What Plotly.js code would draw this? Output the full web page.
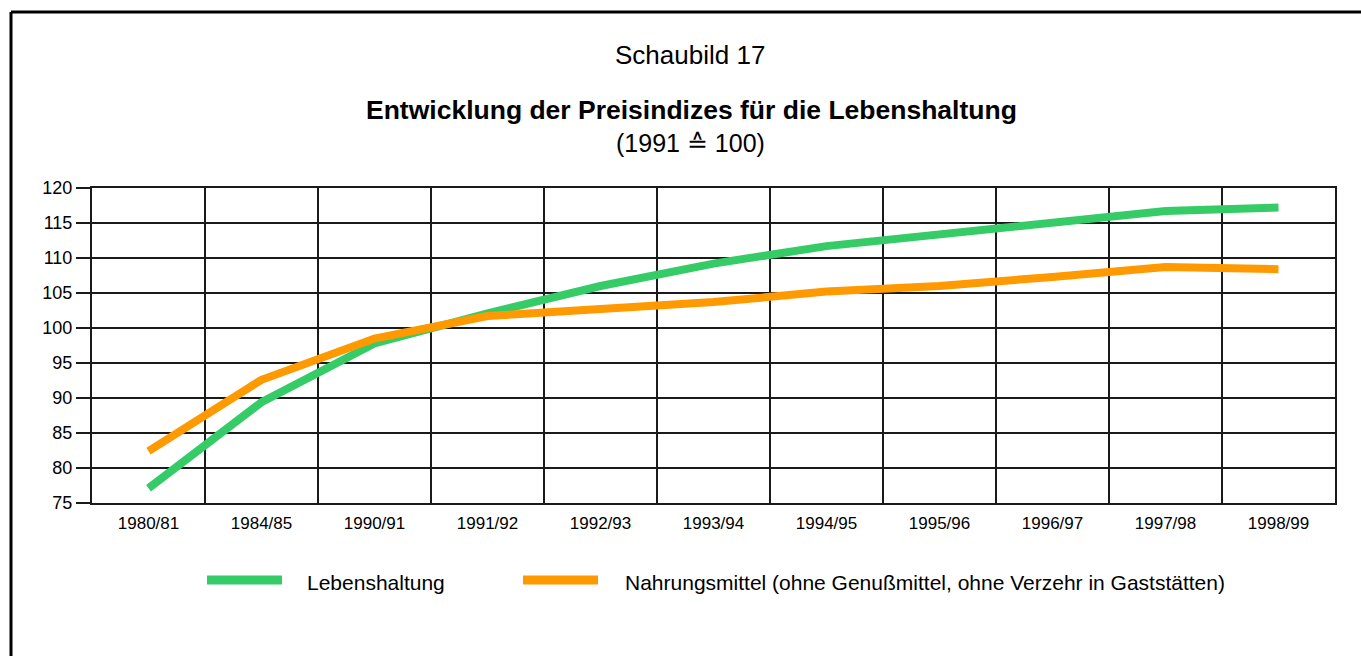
<!DOCTYPE html>
<html>
<head>
<meta charset="utf-8">
<script src="https://cdn.plot.ly/plotly-3.0.1.min.js"></script>
<style>
  html, body { margin: 0; padding: 0; background: #ffffff; }
  #chart { width: 1361px; height: 656px; }
</style>
</head>
<body>
<div id="chart"></div>
<script>
const categories = ["1980/81", "1984/85", "1990/91", "1991/92", "1992/93", "1993/94", "1994/95", "1995/96", "1996/97", "1997/98", "1998/99"];
const lebenshaltung = [77.1, 89.4, 97.8, 102.1, 106.0, 109.2, 111.7, 113.3, 115.1, 116.7, 117.2];
const nahrungsmittel = [82.4, 92.6, 98.5, 101.7, 102.7, 103.7, 105.2, 106.0, 107.3, 108.7, 108.4];
const seriesNames = ["Lebenshaltung", "Nahrungsmittel (ohne Genußmittel, ohne Verzehr in Gaststätten)"];
const yTicks = [75, 80, 85, 90, 95, 100, 105, 110, 115, 120];

const FONT = "Liberation Sans, Arial, sans-serif";
const GREEN = "#35cc68";
const ORANGE = "#ff9900";

// plot area in pixels: left 92, right 1335, top 188, bottom 503
const L = 92, R = 1335, T = 188, B = 503;
const px = X => (X - L) / (R - L);
const py = Y => (B - Y) / (B - T);

const traces = [
  { x: categories, y: lebenshaltung, name: seriesNames[0], type: "scatter", mode: "lines",
    line: { color: GREEN, width: 8 } },
  { x: categories, y: nahrungsmittel, name: seriesNames[1], type: "scatter", mode: "lines",
    line: { color: ORANGE, width: 8 } }
];

const layout = {
  width: 1361, height: 656,
  margin: { l: L, r: 1361 - R, t: T, b: 656 - B, pad: 0 },
  paper_bgcolor: "#ffffff", plot_bgcolor: "#ffffff",
  showlegend: false,
  font: { family: FONT, color: "#000000" },
  xaxis: {
    type: "category", tickson: "boundaries",
    range: [-0.5, categories.length - 0.5], autorange: false,
    showgrid: true, gridcolor: "#1a1a1a", gridwidth: 2,
    showline: true, linecolor: "#1a1a1a", linewidth: 2, mirror: true,
    ticks: "", tickfont: { size: 17, family: FONT, color: "#000" },
    ticklabelstandoff: 4,
    zeroline: false, fixedrange: true
  },
  yaxis: {
    range: [75, 120], tickvals: yTicks, ticktext: yTicks.map(String),
    showgrid: true, gridcolor: "#1a1a1a", gridwidth: 2,
    showline: true, linecolor: "#1a1a1a", linewidth: 2, mirror: true,
    ticks: "outside", ticklen: 14, tickwidth: 2, tickcolor: "#1a1a1a",
    tickfont: { size: 18, family: FONT, color: "#000" },
    zeroline: false, fixedrange: true
  },
  shapes: [
    // outer frame (top and left edges)
    { type: "line", xref: "paper", yref: "paper", x0: px(11), x1: px(1370), y0: py(12), y1: py(12),
      line: { color: "#000", width: 3 } },
    { type: "line", xref: "paper", yref: "paper", x0: px(11), x1: px(11), y0: py(12), y1: py(670),
      line: { color: "#000", width: 3 } },
    // legend samples
    { type: "line", xref: "paper", yref: "paper", x0: px(207), x1: px(282), y0: py(580), y1: py(580),
      line: { color: GREEN, width: 9 } },
    { type: "line", xref: "paper", yref: "paper", x0: px(523), x1: px(598), y0: py(580), y1: py(580),
      line: { color: ORANGE, width: 9 } }
  ],
  annotations: [
    { text: "Schaubild 17", xref: "paper", yref: "paper", x: px(690), y: py(55),
      xanchor: "center", yanchor: "middle", showarrow: false, font: { size: 26, family: FONT } },
    { text: "<b>Entwicklung der Preisindizes für die Lebenshaltung</b>", xref: "paper", yref: "paper",
      x: px(691), y: py(110), xanchor: "center", yanchor: "middle", showarrow: false, font: { size: 26.5, family: FONT } },
    { text: "(1991 ≙ 100)", xref: "paper", yref: "paper", x: px(690), y: py(143),
      xanchor: "center", yanchor: "middle", showarrow: false, font: { size: 25, family: FONT } },
    { text: seriesNames[0], xref: "paper", yref: "paper", x: px(305), y: py(582),
      xanchor: "left", yanchor: "middle", showarrow: false, font: { size: 21, family: FONT } },
    { text: seriesNames[1], xref: "paper", yref: "paper", x: px(623), y: py(582),
      xanchor: "left", yanchor: "middle", showarrow: false, font: { size: 21, family: FONT } }
  ]
};

Plotly.newPlot("chart", traces, layout, { displayModeBar: false, staticPlot: true });
</script>
</body>
</html>
